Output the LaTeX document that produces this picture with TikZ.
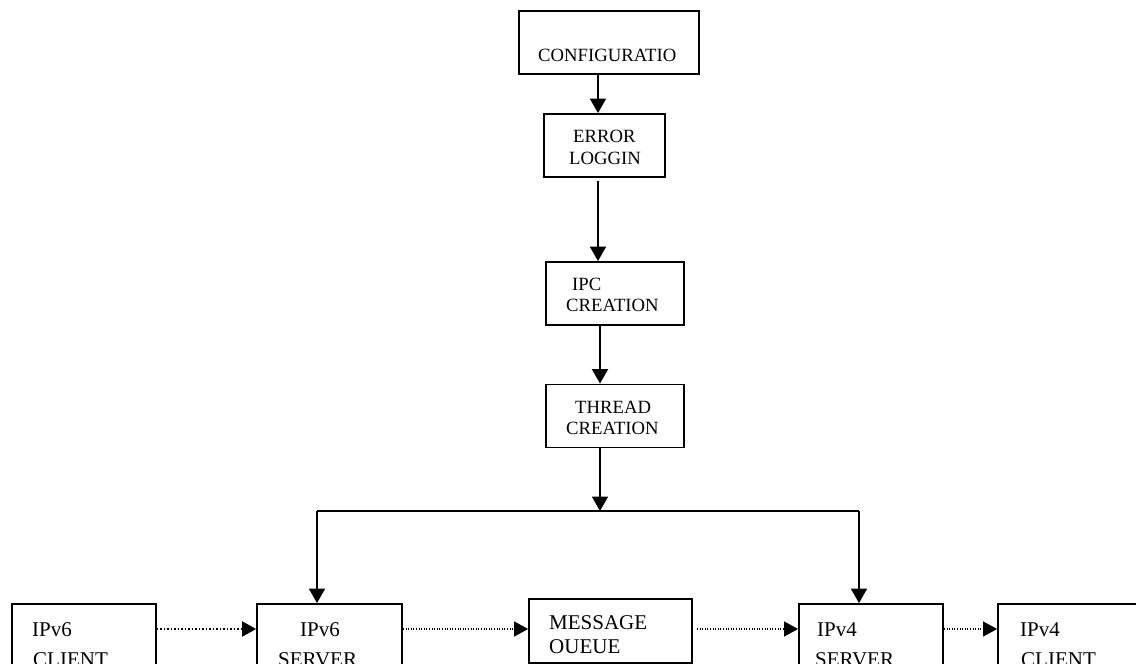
\documentclass[tikz,border=0pt]{standalone}
\usepackage{fontspec}
\setmainfont{Liberation Serif}
\usetikzlibrary{arrows.meta}
\begin{document}
\begin{tikzpicture}[x=1pt,y=-1pt,
  box/.style={draw, line width=1.8pt, inner sep=0pt},
  toptxt/.style={inner sep=0pt, anchor=base west, font=\fontsize{18.7}{21.5}\selectfont},
  bottxt/.style={inner sep=0pt, anchor=base west, font=\fontsize{21}{24}\selectfont},
  arr/.style={line width=1.8pt, -{Triangle[width=16pt,length=14.5pt]}},
  plainline/.style={line width=1.8pt},
  dotsA/.style={line width=2pt, dash pattern=on 1.5pt off 2pt, -{Triangle[width=15pt,length=14pt]}},
  dotsB/.style={line width=1.2pt, dash pattern=on 1pt off 1.6pt, -{Triangle[width=15pt,length=14pt]}}]
\useasboundingbox (0,0) rectangle (1136,664);
\clip (0,0) rectangle (1136,664);

% top column
\node[box, minimum width=180, minimum height=63] (conf) at (609,42.5) {};
\node[toptxt] (confT) at (538,61.5) {CONFIGURATIO};

\node[box, minimum width=121, minimum height=63] (err) at (604.5,145.5) {};
\node[toptxt] (errT1) at (573,142.7) {ERROR};
\node[toptxt] (errT2) at (569,164.3) {LOGGIN};

\node[box, minimum width=138, minimum height=63] (ipc) at (615,293.5) {};
\node[toptxt] (ipcT1) at (572,290.7) {IPC};
\node[toptxt] (ipcT2) at (566,311.7) {CREATION};

\node[box, minimum width=138, minimum height=63] (thr) at (615,416) {};
\node[toptxt] (thrT1) at (575,413.3) {THREAD};
\node[toptxt] (thrT2) at (566,434.3) {CREATION};

% bottom row
\node[box, minimum width=144, minimum height=70] (v6c) at (84,639) {};
\node[bottxt] (v6cT1) at (32,636) {IPv6};
\node[bottxt] (v6cT2) at (33,666) {CLIENT};

\node[box, minimum width=145, minimum height=70] (v6s) at (329.5,639) {};
\node[bottxt] (v6sT1) at (300,636) {IPv6};
\node[bottxt] (v6sT2) at (278,666) {SERVER};

\node[box, minimum width=163, minimum height=64] (mq) at (610.5,631) {};
\node[bottxt] (mqT1) at (549,629.3) {MESSAGE};
\node[bottxt] (mqT2) at (549,653.3) {OUEUE};

\node[box, minimum width=144, minimum height=70] (v4s) at (871,639) {};
\node[bottxt] (v4sT1) at (817,636) {IPv4};
\node[bottxt] (v4sT2) at (815,666) {SERVER};

\node[box, minimum width=152, minimum height=70] (v4c) at (1074,639) {};
\node[bottxt] (v4cT1) at (1020,636) {IPv4};
\node[bottxt] (v4cT2) at (1021,666) {CLIENT};

% vertical flow
\draw[arr] ([xshift=-11pt]conf.south) -- ([xshift=-6.5pt]err.north);
\draw[arr] ([xshift=-6.5pt,yshift=-3pt]err.south) -- ([xshift=-17pt]ipc.north);
\draw[arr] ([xshift=-15pt]ipc.south) -- ([xshift=-15pt]thr.north);

\coordinate (split) at (600,511);
\coordinate (jl) at (317,511);
\coordinate (jr) at (859,511);
\draw[arr] ([xshift=-15pt]thr.south) -- (split);
\draw[plainline] (jl) -- (jr);
\draw[arr] (jl) -- ([xshift=-12.5pt]v6s.north);
\draw[arr] (jr) -- ([xshift=-12pt]v4s.north);

% dotted row
\coordinate (row) at (0,629);
\draw[dotsA] (v6c.east |- row) -- (v6s.west |- row);
\draw[dotsB] (v6s.east |- row) -- (mq.west |- row);
\draw[dotsB] ([xshift=4pt]mq.east |- row) -- (v4s.west |- row);
\draw[dotsB] (v4s.east |- row) -- (v4c.west |- row);
\end{tikzpicture}
\end{document}
